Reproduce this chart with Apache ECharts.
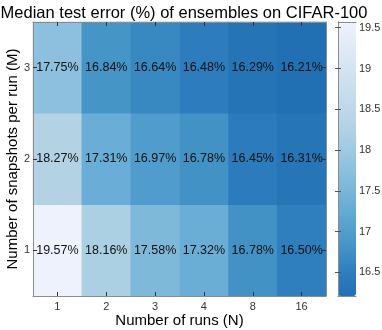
<!DOCTYPE html>
<html>
<head>
<meta charset="utf-8">
<script src="https://cdn.jsdelivr.net/npm/echarts@6/dist/echarts.min.js"></script>
<style>
  html, body { margin: 0; padding: 0; background: #fff; }
  #main { width: 382px; height: 330px; }
</style>
</head>
<body>
<div id="main"></div>
<script>
// 数据
var runs = ['1', '2', '3', '4', '8', '16'];
var snapshots = ['1', '2', '3'];
var errM1 = [19.57, 18.16, 17.58, 17.32, 16.78, 16.50];
var errM2 = [18.27, 17.31, 16.97, 16.78, 16.45, 16.31];
var errM3 = [17.75, 16.84, 16.64, 16.48, 16.29, 16.21];
var barTicks = [16.5, 17, 17.5, 18, 18.5, 19, 19.5];

(function() {
    var myChart = echarts.init(document.getElementById('main'));
    var rows = [errM1, errM2, errM3];
    var data = [];
    for (var j = 0; j < rows.length; j++) {
        for (var i = 0; i < runs.length; i++) {
            data.push([i, j, rows[j][i]]);
        }
    }
    var vmin = 16.21, vmax = 19.57;

    // 色带锚点（位置 0~1）→ 均匀采样成 visualMap 颜色
    var anchors = [
        [0, [0x20, 0x70, 0xb3]],
        [0.086, [0x2e, 0x7e, 0xbe]],
        [0.17, [0x42, 0x92, 0xc6]],
        [0.33, [0x6a, 0xae, 0xd6]],
        [0.458, [0x8c, 0xc0, 0xde]],
        [0.613, [0xb3, 0xd2, 0xe4]],
        [1, [0xee, 0xf2, 0xfd]]
    ];
    function colorAt(t) {
        for (var k = 1; k < anchors.length; k++) {
            if (t <= anchors[k][0]) {
                var a = anchors[k - 1], b = anchors[k];
                var f = (t - a[0]) / (b[0] - a[0]);
                var c = a[1].map(function(x, n) { return Math.round(x + (b[1][n] - x) * f); });
                return 'rgb(' + c.join(',') + ')';
            }
        }
        return 'rgb(' + anchors[anchors.length - 1][1].join(',') + ')';
    }
    var ramp = [];
    for (var s = 0; s <= 60; s++) ramp.push(colorAt(s / 60));

    var font = 'Liberation Sans, Arial, sans-serif';
    var frame = { show: true, lineStyle: { color: '#8c8c8c', width: 1 } };
    var tickStyle = { show: true, inside: true, length: 4, alignWithLabel: true, lineStyle: { color: '#333' } };
    var barTick = { show: true, inside: true, length: 3, customValues: barTicks, lineStyle: { color: '#555' } };

    var option = {
        textStyle: { fontFamily: font },
        title: {
            text: 'Median test error (%) of ensembles on CIFAR-100',
            left: 179, top: 0, textAlign: 'center',
            textStyle: { fontSize: 16.5, fontWeight: 'normal', color: '#000', fontFamily: font }
        },
        grid: [
            { left: 33, top: 22, width: 293, height: 274, outerBoundsMode: 'none', containLabel: false },
            // 颜色条
            { left: 338, top: 22, width: 18, height: 274, outerBoundsMode: 'none', containLabel: false }
        ],
        xAxis: [
            {
                type: 'category', data: runs, gridIndex: 0, position: 'bottom', z: 5,
                name: 'Number of runs (N)', nameLocation: 'middle', nameGap: 17, nameMoveOverlap: false,
                nameTextStyle: { fontSize: 15, color: '#000', verticalAlign: 'top' },
                axisLine: frame, axisTick: tickStyle,
                axisLabel: { fontSize: 11, color: '#333', margin: 5 },
                splitLine: { show: false }
            },
            {
                type: 'category', data: runs, gridIndex: 0, position: 'top', z: 5,
                axisLine: frame, axisTick: tickStyle, axisLabel: { show: false }
            },
            { type: 'value', gridIndex: 1, position: 'bottom', z: 6, axisLine: frame, axisTick: { show: false }, axisLabel: { show: false }, splitLine: { show: false } },
            { type: 'value', gridIndex: 1, position: 'top', z: 6, axisLine: frame, axisTick: { show: false }, axisLabel: { show: false }, splitLine: { show: false } }
        ],
        yAxis: [
            {
                type: 'category', data: snapshots, gridIndex: 0, position: 'left', z: 5,
                name: 'Number of snapshots per run (M)', nameLocation: 'middle', nameGap: 13, nameMoveOverlap: false,
                nameTextStyle: { fontSize: 15, color: '#000', verticalAlign: 'bottom' },
                axisLine: frame, axisTick: tickStyle,
                axisLabel: { fontSize: 11, color: '#333', margin: 3 }
            },
            {
                type: 'category', data: snapshots, gridIndex: 0, position: 'right', z: 5,
                axisLine: frame, axisTick: tickStyle, axisLabel: { show: false }
            },
            {
                type: 'value', gridIndex: 1, position: 'right', min: vmin, max: vmax, z: 6,
                axisLine: frame, axisTick: barTick,
                axisLabel: { fontSize: 11, color: '#333', margin: 3, customValues: barTicks },
                splitLine: { show: false }
            },
            {
                type: 'value', gridIndex: 1, position: 'left', min: vmin, max: vmax, z: 6,
                axisLine: frame, axisTick: barTick,
                axisLabel: { show: false },
                splitLine: { show: false }
            }
        ],
        visualMap: {
            type: 'continuous', min: vmin, max: vmax, seriesIndex: 0,
            calculable: false, realtime: false, hoverLink: false,
            left: 338, top: 22, itemWidth: 18, itemHeight: 274,
            text: null, showLabel: false, padding: 0,
            inRange: { color: ramp }
        },
        series: [{
            type: 'heatmap',
            xAxisIndex: 0, yAxisIndex: 0,
            data: data,
            label: {
                show: true, fontSize: 12.5, color: '#111',
                formatter: function(p) { return p.value[2].toFixed(2) + '%'; }
            },
            emphasis: { disabled: true }
        }]
    };
    myChart.setOption(option);
})();
</script>
</body>
</html>
